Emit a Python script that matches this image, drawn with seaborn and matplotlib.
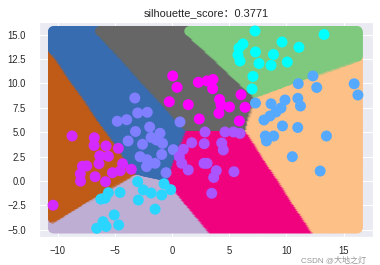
import numpy as np
import pandas as pd
import matplotlib
matplotlib.use("Agg")
import matplotlib.pyplot as plt
import seaborn as sns

# ---- data (one list pair per cluster) ----
c0_x = [7.25, 13.28, 6.20, 5.85, 5.76, 5.94, 7.29, 9.61, 11.09, 8.86, 7.60, 8.65, 10.07, 7.07, 6.99]
c0_y = [15.37, 15.01, 14.04, 13.63, 12.91, 12.30, 13.22, 14.24, 13.70, 12.96, 12.04, 11.85, 12.19, 10.71, 9.43]

c1_x = [-6.22, -5.85, -5.56, -4.54, -3.00, -2.51, -2.94, -1.83, -0.90, -0.70, -0.11, -1.48, -5.05, -4.66, -6.03, -5.76, -6.58]
c1_y = [-1.86, -1.77, -1.20, -1.18, -0.07, -0.92, -1.95, -1.23, -1.43, -0.28, -0.89, -2.89, -3.48, -4.51, -4.17, -4.66, -4.85]

c2_x = [12.31, 12.64, 11.03, 15.91, 16.24, 9.87, 10.99, 11.22, 8.65, 7.29, 9.08, 9.52, 8.56, 8.03, 9.65, 10.98, 13.49, 8.15, 8.88, 8.25, 10.51, 12.94]
c2_y = [10.76, 9.58, 9.97, 9.96, 8.81, 8.30, 8.47, 7.68, 7.91, 7.99, 7.07, 7.48, 6.66, 6.25, 5.64, 5.48, 4.61, 4.61, 4.61, 4.10, 2.49, 1.02]

c3_x = [-3.25, -3.00, -2.16, -3.96, -4.78, -3.19, -1.95, 0.70, -1.05, -3.84, -2.58, -1.83, -1.35, -0.83, 0.11, -2.79, -2.18, -0.90, -1.48, -2.23, -0.52]
c3_y = [8.50, 6.97, 7.04, 6.28, 6.12, 5.07, 5.53, 6.05, 4.89, 4.10, 3.76, 4.46, 4.20, 3.86, 3.21, 2.49, 2.18, 2.72, 1.81, 1.47, 0.85]

c4_x = [2.88, 4.63, 5.37, 5.94, 1.72, 2.81, 4.34, 4.48, 0.99, 0.64, 0.85, 1.42, 2.79, 3.06, 3.87, 3.64, 5.41, 3.47]
c4_y = [5.02, 5.02, 5.02, 4.87, 3.92, 3.82, 3.89, 3.18, 3.25, 2.49, 1.81, 1.13, 1.81, 1.81, 1.06, 0.36, 0.95, -1.26]

c5_x = [-8.73, -6.79, -6.81, -5.76, -4.69, -6.31, -5.56, -7.82, -7.45, -6.38, -8.01, -7.99, -6.72, -5.81, -5.20, -4.32, -4.52, -3.55, -10.39]
c5_y = [4.61, 4.43, 3.64, 3.59, 3.35, 2.58, 2.53, 1.51, 1.54, 1.77, 0.72, -0.02, 0.44, -0.07, 0.85, 1.77, 1.05, 1.20, -2.48]

c6_x = [0.06, 0.44, -0.24, 1.42, 2.30, 3.06, 3.58, 3.55, 4.15, 4.28, 5.02, 4.10, 6.03, 6.38, 5.88, 2.38]
c6_y = [10.76, 9.60, 8.12, 7.82, 10.11, 10.25, 10.40, 9.46, 8.35, 7.79, 7.58, 6.94, 8.84, 7.55, 6.15, 6.35]

title_text = "silhouette_score：0.3771"
watermark_text = "CSDN @大地之灯"

# ---- assemble ----
clusters = [(c0_x, c0_y), (c1_x, c1_y), (c2_x, c2_y), (c3_x, c3_y),
            (c4_x, c4_y), (c5_x, c5_y), (c6_x, c6_y)]
pts = pd.concat([pd.DataFrame({"x": cx, "y": cy, "label": k})
                 for k, (cx, cy) in enumerate(clusters)], ignore_index=True)
centers = pts.groupby("label")[["x", "y"]].mean().to_numpy()

step = 0.1
gx, gy = np.meshgrid(np.arange(pts.x.min(), pts.x.max(), step),
                     np.arange(pts.y.min(), pts.y.max(), step))
grid = np.c_[gx.ravel(), gy.ravel()]
d = ((grid[:, None, :] - centers[None, :, :]) ** 2).sum(-1)
bg = pd.DataFrame({"x": grid[:, 0], "y": grid[:, 1], "label": d.argmin(1)})

n = len(clusters)
accent = matplotlib.colormaps["Accent"]
cool = matplotlib.colormaps["cool"]
region_pal = {k: accent(k / (n - 1)) for k in range(n)}
point_pal = {k: cool(k / (n - 1)) for k in range(n)}

sns.set_theme(style="darkgrid")
plt.rcParams["font.family"] = ["Liberation Sans", "Noto Sans CJK SC", "DejaVu Sans"]

W, H = 380, 265
fig = plt.figure(figsize=(W / 72, H / 72), dpi=72)
ax = fig.add_axes([39 / W, 1 - 237 / H, (372.7 - 39) / W, (237 - 22) / H])

sns.scatterplot(data=bg, x="x", y="y", hue="label", palette=region_pal,
                s=100, linewidth=0, legend=False, ax=ax)
sns.scatterplot(data=pts, x="x", y="y", hue="label", palette=point_pal,
                s=120, linewidth=0, legend=False, ax=ax)

ax.set_xlim(-11.62, 17.53)
ax.set_ylim(-5.74, 16.29)
ax.set_xlabel("")
ax.set_ylabel("")
ax.tick_params(labelsize=9.5)
ax.tick_params(axis="x", pad=3.5)
ax.tick_params(axis="y", pad=7)
ax.set_title(title_text, fontsize=11)

fig.text(366 / W, 0.0, watermark_text, ha="right", va="bottom",
         fontsize=8, color="0.45", alpha=0.75)

fig.savefig("out.png", dpi=72)
